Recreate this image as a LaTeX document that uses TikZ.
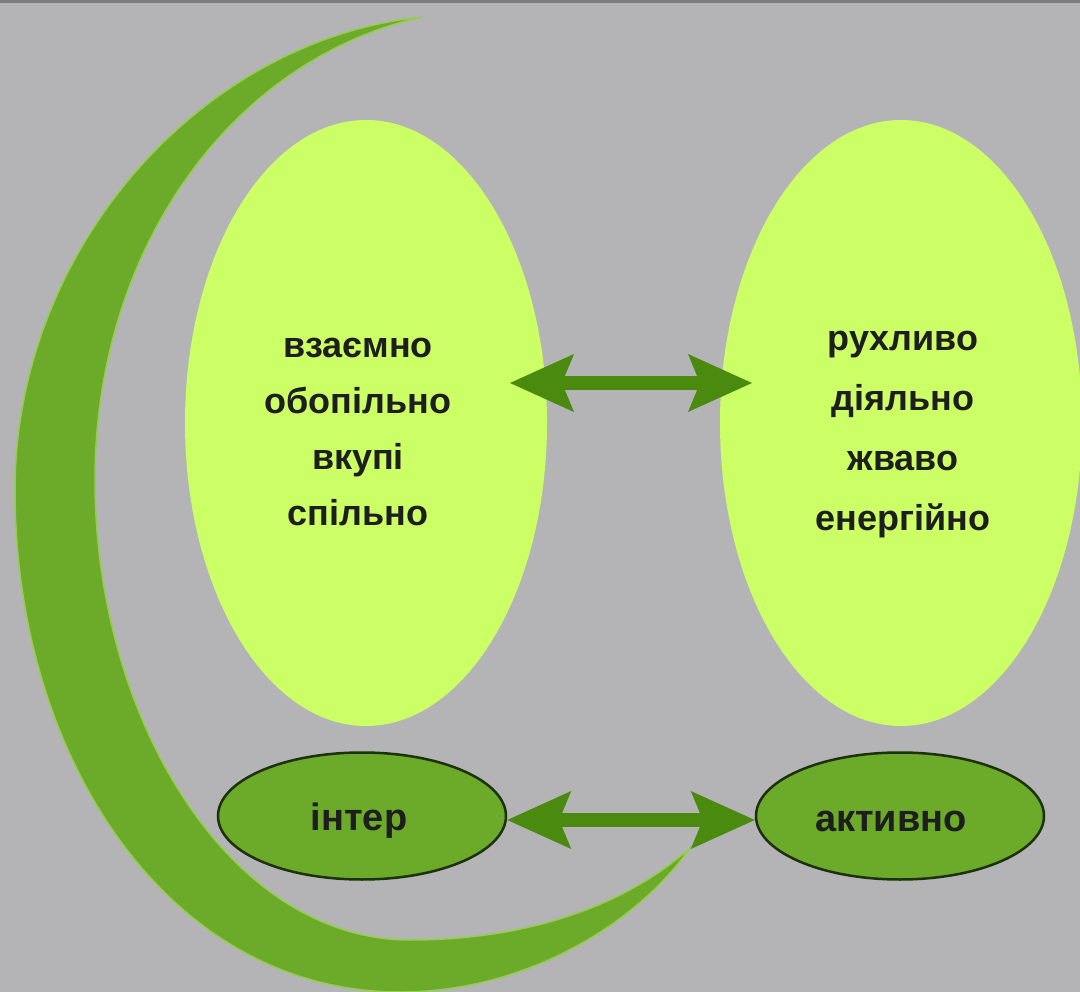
\documentclass[tikz,border=0pt]{standalone}
\usepackage{fontspec}
\setmainfont{Liberation Sans}
\usetikzlibrary{shapes.geometric,arrows.meta}
\definecolor{bg}{RGB}{180,180,182}
\definecolor{topline}{RGB}{125,125,125}
\definecolor{lime}{RGB}{204,255,102}
\definecolor{leaf}{RGB}{108,170,42}
\definecolor{leafedge}{RGB}{150,205,80}
\definecolor{arrowgreen}{RGB}{74,138,14}
\definecolor{ink}{RGB}{30,30,30}
\definecolor{rim}{RGB}{28,48,10}
\tikzset{
  bigoval/.style={ellipse, fill=lime, draw=none, minimum width=362pt, minimum height=606pt, inner sep=0pt},
  bigtext/.style={align=center, text=ink, inner sep=0pt, font=\bfseries\fontsize{36}{56}\selectfont},
  smalloval/.style={ellipse, fill=leaf, draw=rim, line width=2.5pt, minimum width=288pt, minimum height=127pt, inner sep=0pt},
  smalltext/.style={text=ink, inner sep=0pt, font=\bfseries\fontsize{38}{44}\selectfont},
  twoway/.style={draw=arrowgreen, fill=arrowgreen, line width=14pt,
    {Stealth[length=64pt,width=58pt,inset=12pt,line width=0pt]}-{Stealth[length=64pt,width=58pt,inset=12pt,line width=0pt]}}
}
\begin{document}
\begin{tikzpicture}[x=1pt,y=-1pt]
\fill[bg] (0,0) rectangle (1080,992);
\useasboundingbox (0,0) rectangle (1080,992);
\fill[topline] (0,0) rectangle (1080,3);
% crescent
\fill[leaf, draw=leafedge, line width=1.5pt]
  (422,17) .. controls (200,40) and (15,250) .. (15,490)
  .. controls (15,760) and (170,992) .. (400,992)
  .. controls (530,992) and (640,920) .. (690,848)
  .. controls (620,910) and (520,940) .. (410,940)
  .. controls (230,940) and (95,720) .. (95,480)
  .. controls (95,250) and (230,60) .. (422,17) -- cycle;
% big ovals
\node[bigoval] (L) at (366,423) {};
\node[bigoval] (R) at (901,423) {};
\node[bigtext] (Lt) at (358,432) {взаємно\\обопільно\\вкупі\\спільно};
\node[bigtext, font=\bfseries\fontsize{36}{60}\selectfont] (Rt) at (903,435) {рухливо\\діяльно\\жваво\\енергійно};
% small ovals
\node[smalloval] (I) at (362,816) {};
\node[smalloval] (A) at (900,816) {};
\node[smalltext] (It) at (359,821) {інтер};
\node[smalltext] (At) at (891,821) {активно};
% arrows
\coordinate (t1) at (510,383);
\coordinate (t2) at (752,383);
\draw[twoway] (t1) -- (t2);
\draw[twoway] ([yshift=-4pt]I.east) -- ([yshift=-4pt]A.west);
\end{tikzpicture}
\end{document}
